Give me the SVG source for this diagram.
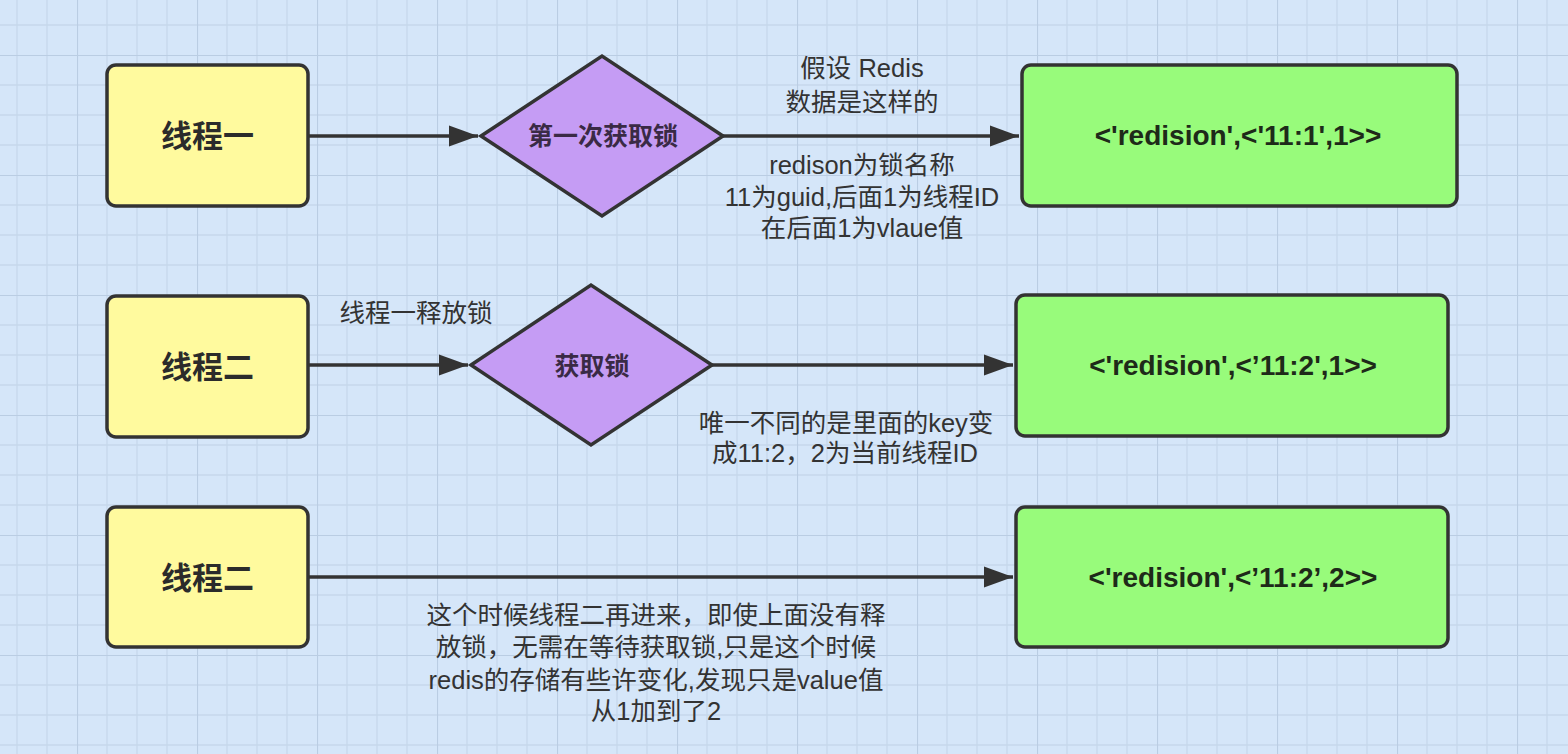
<svg xmlns="http://www.w3.org/2000/svg" width="1568" height="754" viewBox="0 0 1568 754">
<defs>
<pattern id="grid" patternUnits="userSpaceOnUse" x="77" y="55" width="120" height="120">
<path d="M30,0V120M60,0V120M90,0V120M0,30H120M0,60H120M0,90H120" stroke="#c6d8ec" stroke-width="1.3" fill="none"/>
<path d="M0,0V120M0,0H120" stroke="#bacde3" stroke-width="2.2" fill="none"/>
</pattern>
<marker id="arr" markerUnits="userSpaceOnUse" markerWidth="30" markerHeight="22" refX="29" refY="11" orient="auto">
<path d="M0,0.5 L29,11 L0,21.5 Z" fill="#333333"/>
</marker>
<style>
.yel{fill:#fffa9e;stroke:#333333;stroke-width:3.5}
.grn{fill:#98fb7b;stroke:#333333;stroke-width:3.5}
.dia{fill:#c59cf4;stroke:#333333;stroke-width:3.5}
.nt{font-family:"Noto Sans CJK SC",sans-serif;font-weight:bold;font-size:31px;fill:#2b2b2b;text-anchor:middle}
.dt{font-family:"Noto Sans CJK SC",sans-serif;font-weight:bold;font-size:25px;fill:#3a2a45;text-anchor:middle}
.gt{font-family:"Liberation Sans","Noto Sans CJK SC",sans-serif;font-weight:bold;font-size:28px;fill:#1e2a19;text-anchor:middle}
.lb{font-family:"Liberation Sans","Noto Sans CJK SC",sans-serif;font-size:25.5px;fill:#333333;text-anchor:middle}
.cn{stroke:#333333;stroke-width:3.5;fill:none;marker-end:url(#arr)}
</style>
</defs>
<rect width="1568" height="754" fill="#d5e6f9"/>
<rect width="1568" height="754" fill="url(#grid)"/>

<g id="connectors">
<path class="cn" d="M309,136 H478"/>
<path class="cn" d="M723,136 H1019"/>
<path class="cn" d="M309,365 H468"/>
<path class="cn" d="M712,365 H1013"/>
<path class="cn" d="M309,577 H1013"/>
</g>

<g id="thread1">
<rect class="yel" x="107" y="65" width="201" height="141" rx="9"/>
<text class="nt" x="207.5" y="147">线程一</text>
</g>
<g id="thread2a">
<rect class="yel" x="107" y="296" width="201" height="141" rx="9"/>
<text class="nt" x="207.5" y="378">线程二</text>
</g>
<g id="thread2b">
<rect class="yel" x="107" y="507" width="201" height="140" rx="9"/>
<text class="nt" x="207.5" y="589">线程二</text>
</g>

<g id="lock1">
<polygon class="dia" points="481,136 602,56 723,136 602,216"/>
<text class="dt" x="603" y="145">第一次获取锁</text>
</g>
<g id="lock2">
<polygon class="dia" points="471,365 591,285 712,365 591,445"/>
<text class="dt" x="592" y="375">获取锁</text>
</g>

<g id="data1">
<rect class="grn" x="1022" y="65" width="435" height="141" rx="9"/>
<text class="gt" x="1238" y="145">&lt;'redision',&lt;'11:1',1&gt;&gt;</text>
</g>
<g id="data2">
<rect class="grn" x="1016" y="295" width="432" height="141" rx="9"/>
<text class="gt" x="1233" y="375">&lt;'redision',&lt;’11:2',1&gt;&gt;</text>
</g>
<g id="data3">
<rect class="grn" x="1016" y="507" width="432" height="140" rx="9"/>
<text class="gt" x="1233" y="587">&lt;'redision',&lt;’11:2’,2&gt;&gt;</text>
</g>

<g id="labels">
<text class="lb" x="862" y="77">假设 Redis</text>
<text class="lb" x="862" y="111">数据是这样的</text>
<text class="lb" x="862" y="174">redison为锁名称</text>
<text class="lb" x="862" y="206">11为guid,后面1为线程ID</text>
<text class="lb" x="862" y="237">在后面1为vlaue值</text>
<text class="lb" x="416" y="322">线程一释放锁</text>
<text class="lb" x="846" y="432">唯一不同的是里面的key变</text>
<text class="lb" x="845" y="462">成11:2，2为当前线程ID</text>
<text class="lb" x="656" y="624">这个时候线程二再进来，即使上面没有释</text>
<text class="lb" x="656" y="656">放锁，无需在等待获取锁,只是这个时候</text>
<text class="lb" x="656" y="689">redis的存储有些许变化,发现只是value值</text>
<text class="lb" x="656" y="720">从1加到了2</text>
</g>
</svg>
